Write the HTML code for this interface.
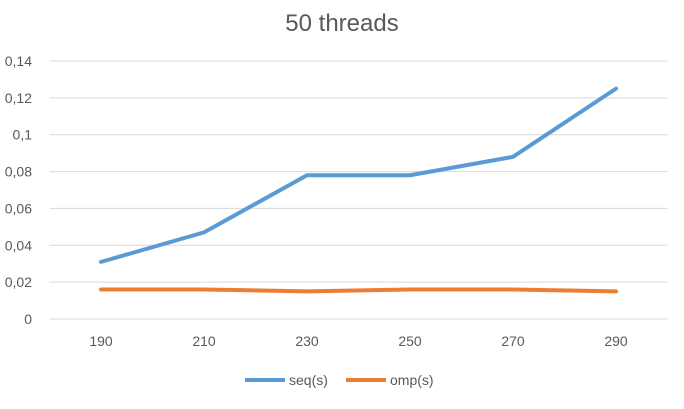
<!DOCTYPE html>
<html><head><meta charset="utf-8"><style>
body{margin:0;background:#fff;font-family:"Liberation Sans",sans-serif}
</style></head><body>
<svg id="chart" width="684" height="404" xmlns="http://www.w3.org/2000/svg">
<rect width="684" height="404" fill="#fff"/>
<text x="342" y="31" text-anchor="middle" font-size="24" fill="#595959" font-family="Liberation Sans, sans-serif">50 threads</text>
<g id="grid"></g><g id="yt"></g><g id="xt"></g><g id="series"></g>
<g>
<g><line x1="245" y1="380" x2="285" y2="380" stroke="#5b9bd5" stroke-width="4"/><text x="289" y="385" font-size="14" fill="#595959">seq(s)</text></g>
<g><line x1="346" y1="380" x2="386" y2="380" stroke="#ed7d31" stroke-width="4"/><text x="390" y="385" font-size="14" fill="#595959">omp(s)</text></g>
</g>
</svg>
<script>
const categories=["190","210","230","250","270","290"];
const seqValues=[0.031,0.047,0.078,0.078,0.088,0.125];
const ompValues=[0.016,0.016,0.015,0.016,0.016,0.015];
const yTicks=[0,0.02,0.04,0.06,0.08,0.1,0.12,0.14];
const yTickLabels=["0","0,02","0,04","0,06","0,08","0,1","0,12","0,14"];
const NS="http://www.w3.org/2000/svg";
const x0=49.5,x1=667.5,yTop=61,yBot=319,yMax=0.14;
const band=(x1-x0)/categories.length;
const xs=i=>x0+band*(i+0.5);
const ys=v=>yBot-(v/yMax)*(yBot-yTop);
function mk(t,a,p){const e=document.createElementNS(NS,t);for(const k in a)e.setAttribute(k,a[k]);p.appendChild(e);return e;}
const grid=document.getElementById('grid'),yt=document.getElementById('yt'),xt=document.getElementById('xt'),ser=document.getElementById('series');
yTicks.forEach((v,i)=>{
 const l=mk('line',{x1:x0,x2:x1,y1:ys(v),y2:ys(v),stroke:'#d9d9d9','stroke-width':1},grid);
 
 
 const t=mk('text',{x:32,y:ys(v)+5,'text-anchor':'end','font-size':14,fill:'#595959'},yt);
 t.textContent=yTickLabels[i];
 
 
});
categories.forEach((c,i)=>{
 const t=mk('text',{x:xs(i),y:346,'text-anchor':'middle','font-size':14,fill:'#595959'},xt);
 t.textContent=c;
 
 
});
function line(vals,color,name){
 const p=mk('polyline',{points:vals.map((v,i)=>xs(i)+','+ys(v)).join(' '),fill:'none',stroke:color,'stroke-width':4,'stroke-linejoin':'round','stroke-linecap':'round'},ser);
 
 
}
line(seqValues,'#5b9bd5','seq-line');
line(ompValues,'#ed7d31','omp-line');
</script>
</body></html>
